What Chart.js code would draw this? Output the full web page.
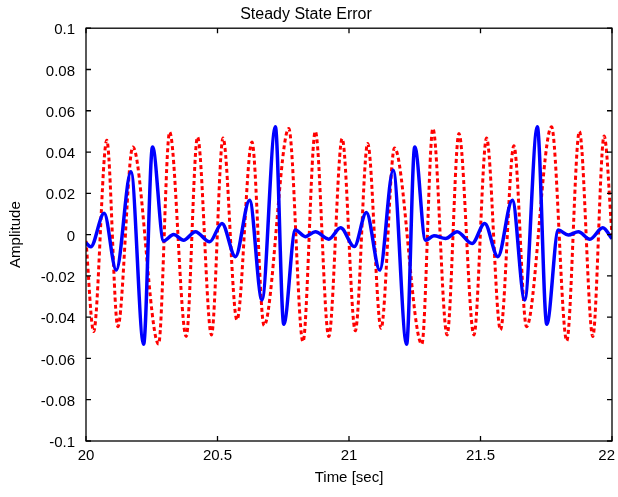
<!DOCTYPE html>
<html lang="en">
<head>
<meta charset="UTF-8">
<title>Steady State Error</title>
<script src="https://cdn.jsdelivr.net/npm/chart.js"></script>
<style>
  body { margin: 0; background: #fff; }
</style>
</head>
<body>
<canvas id="errorChart" width="618" height="497"></canvas>
<script>
// red dashed trace (peaks / troughs)
const redTime = [20.000, 20.029, 20.079, 20.121, 20.178, 20.276, 20.318, 20.381, 20.424, 20.477,
                 20.521, 20.574, 20.631, 20.677, 20.771, 20.825, 20.872, 20.923, 20.974, 21.024,
                 21.071, 21.122, 21.173, 21.277, 21.319, 21.373, 21.418, 21.475, 21.523, 21.576,
                 21.627, 21.675, 21.770, 21.828, 21.876, 21.927, 21.970, 22.000];
const redValue = [-0.003, -0.047, 0.0457, -0.0446, 0.0425, -0.053, 0.0497, -0.0494, 0.0473, -0.0486,
                  0.0468, -0.0414, 0.0449, -0.0441, 0.0514, -0.0519, 0.050, -0.0494, 0.0465, -0.0466,
                  0.0441, -0.0454, 0.042, -0.0531, 0.0514, -0.0486, 0.049, -0.0486, 0.0468, -0.0462,
                  0.043, -0.0446, 0.0522, -0.0515, 0.050, -0.0494, 0.0478, 0.0];

// blue solid trace
const blueTime = [20.000, 20.018, 20.069, 20.115, 20.171, 20.219, 20.253, 20.295, 20.333, 20.371,
                  20.416, 20.470, 20.517, 20.568, 20.622, 20.669, 20.720, 20.752, 20.796, 20.834,
                  20.872, 20.923, 20.968, 21.020, 21.066, 21.117, 21.168, 21.219, 21.250, 21.291,
                  21.323, 21.367, 21.411, 21.468, 21.516, 21.566, 21.621, 21.668, 21.716, 21.752,
                  21.796, 21.834, 21.872, 21.916, 21.965, 22.000];
const blueValue = [-0.004, -0.0059, 0.0103, -0.0172, 0.0304, -0.0531, 0.0425, -0.0031, 0.0, -0.0027,
                   0.0014, -0.0035, 0.0054, -0.0107, 0.0167, -0.0317, 0.0522, -0.0434, 0.0022, -0.001,
                   0.0014, -0.0022, 0.0033, -0.0058, 0.0107, -0.0172, 0.0312, -0.0531, 0.0425, -0.0027,
                   -0.0006, -0.0019, 0.0014, -0.0043, 0.0054, -0.0107, 0.0167, -0.0317, 0.0522, -0.0434,
                   0.0022, -0.0002, 0.0014, -0.0022, 0.0033, -0.002];

const xTicks = [20, 20.5, 21, 21.5, 22];
const yTicks = [-0.1, -0.08, -0.06, -0.04, -0.02, 0, 0.02, 0.04, 0.06, 0.08, 0.1];

const FONT = "'Liberation Sans', Arial, Helvetica, sans-serif";
Chart.defaults.color = '#000';
Chart.defaults.font.family = FONT;

function fmt(v) {
    return String(Number(v.toFixed(4)));
}

// box around the axes, inward tick marks on all four sides, x labels kept inside the canvas
const framePlugin = {
    id: 'frame',
    afterDatasetsDraw(chart) {
        const { ctx, chartArea: a, scales } = chart;
        ctx.save();
        ctx.strokeStyle = '#000';
        ctx.lineWidth = 1.3;
        ctx.strokeRect(a.left, a.top, a.right - a.left, a.bottom - a.top);
        ctx.beginPath();
        scales.x.ticks.forEach(t => {
            const px = scales.x.getPixelForValue(t.value);
            ctx.moveTo(px, a.bottom); ctx.lineTo(px, a.bottom - 5);
            ctx.moveTo(px, a.top); ctx.lineTo(px, a.top + 5);
        });
        scales.y.ticks.forEach(t => {
            const py = scales.y.getPixelForValue(t.value);
            ctx.moveTo(a.left, py); ctx.lineTo(a.left + 5, py);
            ctx.moveTo(a.right, py); ctx.lineTo(a.right - 5, py);
        });
        ctx.stroke();

        ctx.fillStyle = '#000';
        ctx.font = '15px ' + FONT;
        ctx.textAlign = 'center';
        ctx.textBaseline = 'top';
        scales.x.ticks.forEach(t => {
            const label = fmt(t.value);
            const w = ctx.measureText(label).width;
            let cx = scales.x.getPixelForValue(t.value);
            if (cx + w / 2 > chart.width - 3) cx = chart.width - 3 - w / 2;
            ctx.fillText(label, cx, a.bottom + 7);
        });
        ctx.restore();
    }
};

new Chart(document.getElementById('errorChart'), {
    type: 'line',
    data: {
        datasets: [{
            label: 'blue',
            data: blueTime.map((t, i) => ({ x: t, y: blueValue[i] })),
            borderColor: '#0000ff',
            borderWidth: 3.5,
            pointRadius: 0,
            cubicInterpolationMode: 'monotone',
            order: 0
        }, {
            label: 'red',
            data: redTime.map((t, i) => ({ x: t, y: redValue[i] })),
            borderColor: '#ff0000',
            borderWidth: 3,
            borderDash: [4, 3],
            pointRadius: 0,
            cubicInterpolationMode: 'monotone',
            order: 1
        }]
    },
    options: {
        responsive: false,
        animation: false,
        layout: { autoPadding: false, padding: { left: 0, right: 6, top: 0, bottom: 0 } },
        plugins: {
            legend: { display: false },
            tooltip: { enabled: false },
            title: {
                display: true,
                text: 'Steady State Error',
                font: { size: 16, weight: 'normal' },
                padding: { top: 5, bottom: 4 }
            }
        },
        scales: {
            x: {
                type: 'linear',
                min: 20,
                max: 22,
                afterBuildTicks: s => { s.ticks = xTicks.map(v => ({ value: v })); },
                afterFit: s => { s.height = 56; s.paddingLeft = 0; s.paddingRight = 0; },
                grid: { display: false, drawTicks: false },
                border: { display: false },
                ticks: { display: false },
                title: { display: true, text: 'Time [sec]', font: { size: 15 }, padding: { top: 0, bottom: 10 } }
            },
            y: {
                type: 'linear',
                min: -0.1,
                max: 0.1,
                afterBuildTicks: s => { s.ticks = yTicks.map(v => ({ value: v })); },
                afterFit: s => { s.width = 86; },
                grid: { display: false, drawTicks: false },
                border: { display: false },
                ticks: { font: { size: 15 }, padding: 11, labelOffset: 2, callback: v => fmt(v) },
                title: { display: true, text: 'Amplitude', font: { size: 15 }, padding: { top: 7, bottom: 0 } }
            }
        }
    },
    plugins: [framePlugin]
});
</script>
</body>
</html>
